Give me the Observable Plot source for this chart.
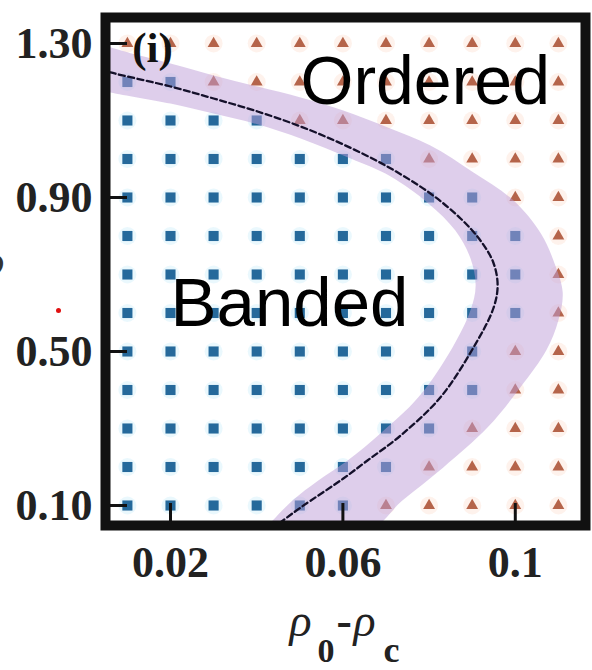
<!DOCTYPE html>
<html><head><meta charset="utf-8">
<script src="https://cdn.jsdelivr.net/npm/d3@7"></script>
<script src="https://cdn.jsdelivr.net/npm/@observablehq/plot@0.6"></script>
<style>body{margin:0;background:#fff;}</style>
</head><body><div id="chart"></div>
<script>
// grid of simulated states
const xValues = [0.01, 0.02, 0.03, 0.04, 0.05, 0.06, 0.07, 0.08, 0.09, 0.10, 0.11];
const yValues = [0.1, 0.2, 0.3, 0.4, 0.5, 0.6, 0.7, 0.8, 0.9, 1.0, 1.1, 1.2, 1.3];
// number of "Banded" (square) states from the left in each row of yValues
const bandedCount = [6, 7, 8, 9, 9, 10, 10, 10, 9, 7, 4, 2, 0];

// dashed boundary curve
const curveX = [0.0038, 0.0061, 0.0200, 0.0300, 0.0402, 0.0502, 0.0601, 0.0703, 0.0803, 0.0873, 0.0919, 0.0949, 0.0959, 0.0949, 0.0903, 0.0826, 0.0734, 0.0657, 0.0601, 0.0502, 0.0455, 0.0432];
const curveY = [1.2325, 1.2247, 1.1883, 1.1571, 1.1234, 1.0844, 1.0377, 0.9805, 0.9104, 0.8455, 0.7883, 0.7312, 0.6714, 0.6117, 0.5104, 0.3805, 0.2818, 0.2169, 0.1701, 0.0948, 0.0558, 0.0351];

// shaded band: outer edge (top to bottom) then inner edge (bottom to top)
const bandOuterX = [0.0026, 0.0061, 0.0200, 0.0300, 0.0402, 0.0502, 0.0601, 0.0704, 0.0803, 0.0903, 0.0996, 0.1059, 0.1093, 0.1110, 0.1100, 0.1072, 0.1012, 0.0936, 0.0833, 0.0738, 0.0659];
const bandOuterY = [1.308, 1.290, 1.248, 1.217, 1.188, 1.160, 1.126, 1.082, 1.035, 0.965, 0.892, 0.807, 0.723, 0.653, 0.581, 0.503, 0.407, 0.303, 0.199, 0.113, 0.035];
const bandInnerX = [0.0414, 0.0437, 0.0483, 0.0543, 0.0611, 0.0687, 0.0775, 0.0854, 0.0896, 0.0908, 0.0896, 0.0861, 0.0799, 0.0710, 0.0618, 0.0502, 0.0402, 0.0300, 0.0200, 0.0061, 0.0026];
const bandInnerY = [0.035, 0.061, 0.113, 0.165, 0.217, 0.287, 0.381, 0.510, 0.607, 0.671, 0.742, 0.814, 0.884, 0.955, 1.001, 1.053, 1.090, 1.118, 1.144, 1.173, 1.183];

const xTicks = [0.02, 0.06, 0.1];
const xTickLabels = ["0.02", "0.06", "0.1"];
const yTicks = [0.1, 0.5, 0.9, 1.3];
const yTickLabels = ["0.10", "0.50", "0.90", "1.30"];

const points = [];
yValues.forEach((y, r) => xValues.forEach((x, c) => points.push({x, y, banded: c < bandedCount[r]})));
const banded = points.filter(d => d.banded);
const ordered = points.filter(d => !d.banded);
const curve = curveX.map((x, i) => ({x, y: curveY[i]}));
const band = bandOuterX.map((x, i) => ({x, y: bandOuterY[i]}))
  .concat(bandInnerX.map((x, i) => ({x, y: bandInnerY[i]})));

const serif = "Liberation Serif";
const plotW = 592 - 105 - 7, plotH = 670 - 17 - 145;

const chart = Plot.plot({
  width: 592, height: 670,
  marginLeft: 105, marginRight: 7, marginTop: 17, marginBottom: 145,
  x: {domain: [0.00492, 0.11629]},
  y: {domain: [0.04805, 1.3675]},
  style: {background: "white"},
  marks: [
    Plot.dot(banded, {x: "x", y: "y", r: 9, fill: "#dcf3fc", fillOpacity: 0.6}),
    Plot.dot(ordered, {x: "x", y: "y", r: 9, fill: "#feeadf", fillOpacity: 0.6}),
    Plot.dot(banded, {x: "x", y: "y", symbol: "square", r: 5.7, fill: "#25699b"}),
    Plot.dot(ordered, {x: "x", y: "y", symbol: "triangle", r: 4.4, fill: "#b5644a"}),
    Plot.line(band, {x: "x", y: "y", fill: "#bd9ed8", fillOpacity: 0.5, stroke: null, curve: "catmull-rom", clip: true}),
    Plot.line(curve, {x: "x", y: "y", stroke: "#14102a", strokeWidth: 2.3, strokeDasharray: "6,3.5", curve: "catmull-rom", clip: true}),
    Plot.ruleY(yTicks, {y: d => d, insetRight: plotW - 22, stroke: "#111", strokeWidth: 3}),
    Plot.ruleX(xTicks, {x: d => d, insetTop: plotH - 22, stroke: "#111", strokeWidth: 3}),
    Plot.frame({stroke: "#111", strokeWidth: 10}),
    Plot.axisY({ticks: yTicks, tickFormat: d => yTickLabels[yTicks.indexOf(d)], tickSize: 0, tickPadding: 13,
      fontSize: 44, fontWeight: "bold", fontFamily: serif, fill: "#222", label: null}),
    Plot.axisX({ticks: xTicks, tickFormat: d => xTickLabels[xTicks.indexOf(d)], tickSize: 0, tickPadding: 20,
      fontSize: 44, fontWeight: "bold", fontFamily: serif, fill: "#222", label: null}),
    Plot.text(["Ordered"], {text: d => d, frameAnchor: "top-left", dx: 195, dy: 86, textAnchor: "start", lineAnchor: "bottom",
      fontSize: 68, fontFamily: "Liberation Sans", fill: "black"}),
    Plot.text(["Banded"], {text: d => d, frameAnchor: "top-left", dx: 65, dy: 308, textAnchor: "start", lineAnchor: "bottom",
      fontSize: 69, fontFamily: "Liberation Sans", fill: "black"}),
    Plot.text(["(i)"], {text: d => d, frameAnchor: "top-left", dx: 47, dy: 44, textAnchor: "middle", lineAnchor: "bottom",
      fontSize: 43, fontWeight: "bold", fontFamily: serif, fill: "#111"}),
    // x-axis label ρ0-ρc
    Plot.text(["ρ"], {text: d => d, frameAnchor: "bottom-left", dx: 184, dy: 110, textAnchor: "start", lineAnchor: "bottom",
      fontSize: 46, fontStyle: "italic", fontFamily: serif, fill: "#222"}),
    Plot.text(["0"], {text: d => d, frameAnchor: "bottom-left", dx: 212, dy: 136, textAnchor: "start", lineAnchor: "bottom",
      fontSize: 34, fontWeight: "bold", fontFamily: serif, fill: "#222"}),
    Plot.text(["-"], {text: d => d, frameAnchor: "bottom-left", dx: 231, dy: 110, textAnchor: "start", lineAnchor: "bottom",
      fontSize: 46, fontWeight: "bold", fontFamily: serif, fill: "#222"}),
    Plot.text(["ρ"], {text: d => d, frameAnchor: "bottom-left", dx: 248, dy: 110, textAnchor: "start", lineAnchor: "bottom",
      fontSize: 46, fontStyle: "italic", fontFamily: serif, fill: "#222"}),
    Plot.text(["c"], {text: d => d, frameAnchor: "bottom-left", dx: 278, dy: 136, textAnchor: "start", lineAnchor: "bottom",
      fontSize: 36, fontWeight: "bold", fontFamily: serif, fill: "#222"}),
    // cropped y-axis label and stray red dot
    Plot.text(["ϕ"], {text: d => d, frameAnchor: "top-left", dx: -112, dy: 245, textAnchor: "middle", lineAnchor: "middle",
      fontSize: 40, fontStyle: "italic", fontFamily: serif, fill: "#333"}),
    Plot.dot([0], {frameAnchor: "top-left", dx: -47, dy: 293, r: 2.5, fill: "#e01010"})
  ]
});
document.getElementById("chart").appendChild(chart);
</script>
</body></html>
